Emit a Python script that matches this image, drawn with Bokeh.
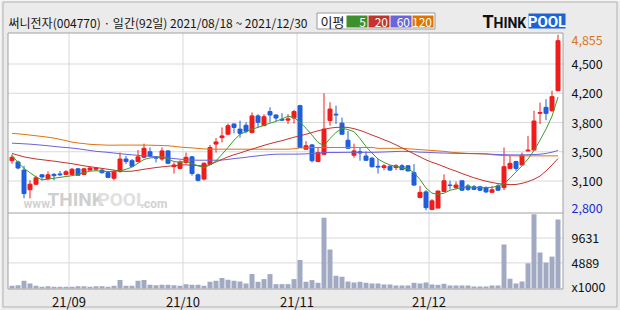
from bokeh.plotting import figure
from bokeh.models import ColumnDataSource, Range1d
from bokeh.embed import file_html
from bokeh.resources import INLINE
from bokeh.core.properties import value

# ---------------- data ----------------
title_text = "써니전자(004770) · 일간(92일) 2021/08/18 ~ 2021/12/30"
ma_names = ["5", "20", "60", "120"]
month_labels = ["21/09", "21/10", "21/11", "21/12"]
month_start_idx = [10, 29, 48, 70]

opens = [3380, 3365, 3270, 3040, 3105, 3215, 3170, 3220, 3225, 3220,
         3220, 3285, 3220, 3270, 3280, 3270, 3240, 3175, 3255, 3400,
         3380, 3370, 3420, 3485, 3425, 3400, 3495, 3310, 3290, 3360,
         3425, 3215, 3165, 3340, 3575, 3650, 3690, 3810, 3750, 3795,
         3710, 3905, 3790, 3955, 3915, 3865, 3855, 3880, 4025, 3515,
         3565, 3370, 3455, 3850, 3925, 3820, 3620, 3445, 3485, 3435,
         3410, 3315, 3300, 3315, 3300, 3320, 3320, 3240, 2950, 3015,
         2810, 2825, 3020, 3095, 3065, 3145, 3085, 3075, 3075, 3065,
         3010, 3085, 3065, 3290, 3370, 3330, 3495, 3505, 3935, 4005,
         3965, 4200]
highs = [3455, 3380, 3320, 3150, 3205, 3220, 3255, 3235, 3260, 3270,
         3295, 3295, 3295, 3310, 3300, 3295, 3255, 3270, 3475, 3435,
         3400, 3505, 3580, 3535, 3435, 3535, 3505, 3360, 3385, 3475,
         3435, 3230, 3360, 3565, 3645, 3770, 3815, 3815, 3850, 3830,
         3945, 3925, 3925, 4005, 3925, 3935, 3925, 3975, 4035, 3610,
         3575, 3535, 4170, 4065, 4025, 3885, 3730, 3580, 3535, 3490,
         3425, 3400, 3340, 3330, 3340, 3340, 3330, 3340, 3085, 3035,
         2930, 3030, 3220, 3145, 3135, 3145, 3105, 3095, 3085, 3080,
         3085, 3105, 3535, 3435, 3380, 3475, 3670, 3965, 4060, 4100,
         4200, 4855]
lows = [3345, 3280, 2940, 2940, 3095, 3150, 3150, 3150, 3200, 3215,
        3210, 3205, 3215, 3260, 3260, 3230, 3175, 3150, 3240, 3340,
        3305, 3360, 3410, 3420, 3360, 3380, 3340, 3230, 3280, 3345,
        3205, 3135, 3150, 3330, 3475, 3595, 3685, 3700, 3650, 3700,
        3700, 3770, 3790, 3830, 3845, 3845, 3810, 3815, 3535, 3515,
        3360, 3370, 3455, 3790, 3810, 3690, 3520, 3415, 3380, 3380,
        3300, 3230, 3270, 3260, 3270, 3270, 3255, 3085, 2940, 2800,
        2800, 2825, 3020, 3045, 3045, 3030, 3025, 3035, 3025, 3000,
        3005, 3025, 3035, 3290, 3260, 3330, 3485, 3505, 3810, 3855,
        3955, 4200]
closes = [3420, 3295, 2995, 3105, 3180, 3190, 3215, 3205, 3215, 3250,
          3280, 3210, 3285, 3295, 3295, 3240, 3185, 3255, 3400, 3370,
          3315, 3425, 3525, 3435, 3410, 3495, 3350, 3330, 3365, 3420,
          3230, 3150, 3350, 3535, 3600, 3670, 3790, 3770, 3700, 3725,
          3905, 3830, 3895, 3915, 3880, 3855, 3870, 3955, 3535, 3555,
          3380, 3475, 3750, 3985, 3915, 3690, 3525, 3495, 3470, 3385,
          3310, 3305, 3320, 3270, 3320, 3275, 3260, 3095, 3010, 2830,
          2910, 3025, 3145, 3090, 3095, 3035, 3045, 3045, 3035, 3015,
          3040, 3035, 3310, 3350, 3290, 3445, 3505, 3845, 3945, 3935,
          4130, 4785]
volumes = [510, 640, 1470, 960, 510, 320, 450, 320, 320, 320,
           320, 450, 450, 320, 450, 450, 320, 510, 1600, 510,
           510, 1470, 1600, 700, 640, 700, 700, 640, 510, 830,
           700, 700, 510, 1280, 1470, 1980, 1660, 1470, 1340, 960,
           2750, 1280, 1790, 2750, 830, 830, 830, 1790, 5440, 1280,
           1600, 1090, 13500, 7420, 2430, 2240, 1340, 1150, 1280, 1090,
           960, 960, 770, 770, 576, 576, 576, 1090, 960, 1150,
           770, 700, 900, 576, 576, 576, 576, 384, 384, 384,
           576, 576, 8380, 1860, 960, 1340, 4800, 14140, 6850, 4930,
           6080, 13180]
ma5 = [3440, 3360, 3290, 3240, 3190, 3155, 3165, 3175, 3185, 3195,
       3205, 3220, 3240, 3258, 3262, 3258, 3253, 3255, 3261, 3280,
       3305, 3350, 3395, 3412, 3420, 3425, 3400, 3370, 3362, 3371,
       3350, 3320, 3300, 3330, 3378, 3455, 3535, 3620, 3690, 3720,
       3750, 3770, 3795, 3820, 3840, 3870, 3900, 3887, 3830, 3760,
       3680, 3594, 3555, 3640, 3710, 3760, 3745, 3720, 3640, 3545,
       3470, 3400, 3360, 3330, 3315, 3295, 3285, 3240, 3160, 3060,
       3000, 2985, 3000, 3034, 3050, 3065, 3073, 3070, 3065, 3065,
       3068, 3085, 3110, 3175, 3250, 3320, 3400, 3500, 3620, 3750,
       3900, 4125]
ma20 = [3465, 3445, 3425, 3412, 3400, 3392, 3383, 3375, 3365, 3355,
        3345, 3333, 3320, 3310, 3300, 3290, 3280, 3270, 3260, 3255,
        3258, 3268, 3280, 3290, 3300, 3308, 3315, 3322, 3330, 3332,
        3328, 3322, 3320, 3335, 3365, 3395, 3425, 3450, 3470, 3495,
        3515, 3538, 3560, 3580, 3598, 3615, 3635, 3655, 3672, 3690,
        3710, 3730, 3748, 3762, 3770, 3772, 3770, 3755, 3735, 3710,
        3680, 3655, 3625, 3598, 3565, 3530, 3495, 3460, 3425, 3390,
        3362, 3338, 3310, 3282, 3258, 3230, 3205, 3180, 3160, 3140,
        3125, 3112, 3104, 3100, 3102, 3115, 3135, 3163, 3200, 3260,
        3330, 3405]
ma60 = [3585, 3582, 3578, 3574, 3568, 3562, 3555, 3548, 3540, 3535,
        3528, 3520, 3510, 3500, 3490, 3484, 3478, 3470, 3462, 3455,
        3449, 3443, 3437, 3430, 3425, 3420, 3412, 3405, 3398, 3392,
        3388, 3386, 3386, 3386, 3386, 3388, 3395, 3405, 3412, 3420,
        3430, 3437, 3445, 3452, 3456, 3457, 3457, 3457, 3458, 3460,
        3465, 3470, 3475, 3476, 3476, 3477, 3478, 3478, 3478, 3478,
        3478, 3480, 3482, 3485, 3488, 3490, 3488, 3485, 3480, 3478,
        3475, 3472, 3470, 3468, 3466, 3465, 3464, 3464, 3463, 3460,
        3456, 3452, 3450, 3449, 3448, 3448, 3450, 3452, 3456, 3465,
        3480, 3500]
ma120 = [3700, 3695, 3688, 3680, 3672, 3664, 3655, 3645, 3630, 3615,
         3598, 3588, 3580, 3572, 3568, 3565, 3562, 3562, 3563, 3563,
         3563, 3563, 3563, 3562, 3560, 3558, 3555, 3548, 3540, 3535,
         3530, 3524, 3518, 3515, 3515, 3515, 3515, 3515, 3515, 3515,
         3515, 3515, 3515, 3515, 3515, 3515, 3515, 3520, 3530, 3532,
         3535, 3535, 3535, 3535, 3535, 3535, 3535, 3535, 3535, 3535,
         3535, 3525, 3525, 3525, 3525, 3525, 3520, 3515, 3510, 3505,
         3500, 3495, 3490, 3480, 3475, 3470, 3465, 3462, 3460, 3458,
         3450, 3445, 3440, 3438, 3437, 3437, 3437, 3437, 3437, 3437,
         3437, 3437]

price_min, price_max = 2800, 4855
price_grid = [4512.5, 4170, 3827.5, 3485, 3142.5]
price_grid_labels = ["4,500", "4,200", "3,800", "3,500", "3,100"]
price_min_label, price_max_label = "2,800", "4,855"
vol_grid = [9631, 4889]
vol_tick_values = [9631, 4889, 0]
vol_tick_labels = ["9631", "4889", "x1000"]

# ---------------- layout geometry (canvas pixels) & style ----------------
W, H = 620, 310
PLOT_L, PLOT_R = 7.5, 562.5          # plot-area border lines
PRICE_T, PANEL_SEP, VOL_B = 32.5, 212.5, 288.5
SLOT0, PX = 11.5, 6.0                # centre of first day, pixels per day
Y_PMAX, Y_PMIN = 34.25, 209.75       # rows of the price extremes
Y_VOL0, VOL_PER_PX = 288.0, 190.7
LABEL_X = 571
MONTH_LABEL_Y = 300.5

FONT = "Noto Sans CJK KR"
BG = "#ebebeb"
GRID = "#d9d9d9"
FRAME = "#a0a0a0"
OUTER = "#b2b2b2"
UP = "#f01c1c"
DOWN = "#1f5fdc"
VOLC = "#a1aac2"
MA_COLORS = ["#3d9a2b", "#c2342e", "#6a62dc", "#e0730e"]
LEG_COLORS = ["#3f8f2c", "#c2342c", "#6a66da", "#e07400"]
AX_FS = "12.5px"

n = len(closes)
xs = list(range(n))
k = (price_max - price_min) / (Y_PMIN - Y_PMAX)   # price per pixel

x_rng = Range1d(-SLOT0 / PX, (W - SLOT0) / PX)
y_rng = Range1d(price_min - (H - Y_PMIN) * k, price_max + Y_PMAX * k)
vol_rng = Range1d(-(H - Y_VOL0) * VOL_PER_PX, Y_VOL0 * VOL_PER_PX)

p = figure(width=W, height=H, x_range=x_rng, y_range=y_rng,
           extra_x_ranges={"px": Range1d(0, W)},
           extra_y_ranges={"py": Range1d(H, 0), "vol": vol_rng},
           x_axis_location=None, y_axis_location=None, toolbar_location=None,
           output_backend="svg", min_border=0, background_fill_color=BG,
           border_fill_color=BG, outline_line_color=None)
p.grid.visible = False

PXY = dict(x_range_name="px", y_range_name="py")

# outer border of the picture
p.quad(left=[2.5], right=[616.5], top=[1.5], bottom=[306.5], fill_color=None,
       line_color=OUTER, line_width=1, **PXY)

# white plot area
p.quad(left=[PLOT_L], right=[PLOT_R], top=[PRICE_T], bottom=[VOL_B],
       fill_color="white", line_color=None, **PXY)

# grid lines
month_edges = [i - 0.5 for i in month_start_idx]
p.segment(x0=month_edges, x1=month_edges, y0=[PRICE_T] * 4, y1=[VOL_B] * 4,
          line_color=GRID, line_width=1, y_range_name="py")
p.segment(x0=[PLOT_L] * 5, x1=[PLOT_R] * 5, y0=price_grid, y1=price_grid,
          line_color=GRID, line_width=1, x_range_name="px")
p.segment(x0=[PLOT_L] * 2, x1=[PLOT_R] * 2, y0=vol_grid, y1=vol_grid,
          line_color=GRID, line_width=1, x_range_name="px", y_range_name="vol")

# watermark
for t, xx, fs, col in [("www.", 23, "12px", "#d2d2d2"), ("THINK", 47, "19px", "#cfcfcf"),
                       ("POOL", 97, "19px", "#e0e0e0"), (".com", 140, "12px", "#d2d2d2")]:
    p.text(x=[xx], y=[210], text=[t], text_font=value("Roboto"), text_font_style="bold",
           text_font_size=fs, text_color=col, text_baseline="bottom", **PXY)

# candles and volume
src = ColumnDataSource(dict(
    x=xs, high=highs, low=lows, vol=volumes,
    top=[max(o, c) for o, c in zip(opens, closes)],
    bottom=[min(o, c) for o, c in zip(opens, closes)],
    color=[UP if c >= o else DOWN for o, c in zip(opens, closes)]))
p.vbar(x="x", width=5 / PX, top="vol", bottom=0, fill_color=VOLC, line_color=None,
       source=src, y_range_name="vol")
p.segment(x0="x", y0="low", x1="x", y1="high", line_color="color", line_width=1, source=src)
p.vbar(x="x", width=4 / PX, top="top", bottom="bottom", fill_color="color",
       line_color="color", line_width=1, source=src)
for ma, col in zip([ma120, ma60, ma20, ma5], MA_COLORS[::-1]):
    p.line(xs, ma, line_color=col, line_width=1)

# borders
p.quad(left=[PLOT_L], right=[PLOT_R], top=[PRICE_T], bottom=[VOL_B],
       fill_color=None, line_color=FRAME, line_width=1, **PXY)
p.segment(x0=[PLOT_L], x1=[PLOT_R], y0=[PANEL_SEP], y1=[PANEL_SEP],
          line_color=FRAME, line_width=1, **PXY)

# price labels (right side)
pl_vals = [price_max] + price_grid + [price_min]
pl_text = [price_max_label] + price_grid_labels + [price_min_label]
pl_col = ["#d8761a"] + ["#111111"] * len(price_grid) + ["#1a2ed0"]
pl_dy = [5] + [0] * len(price_grid) + [-2]
p.text(x=[LABEL_X] * len(pl_vals), y=pl_vals, text=pl_text, text_color=pl_col,
       y_offset=pl_dy, text_font=value(FONT), text_font_size=AX_FS,
       text_baseline="middle", x_range_name="px")

# volume labels
vl_dy = [0, 0, -2]
p.text(x=[LABEL_X] * 3, y=vol_tick_values, text=vol_tick_labels, text_color="#111111",
       y_offset=vl_dy, text_font=value(FONT), text_font_size=AX_FS,
       text_baseline="middle", x_range_name="px", y_range_name="vol")

# month labels
p.text(x=month_edges, y=[MONTH_LABEL_Y] * 4, text=month_labels, text_color="#111111",
       text_font=value(FONT), text_font_size="13px", text_align="center",
       text_baseline="middle", y_range_name="py")

# ---------------- header ----------------
p.text(x=[8], y=[22], text=[title_text], text_font=value(FONT), text_font_size="12px",
       text_baseline="middle", text_color="#151515", **PXY)
p.quad(left=[316.5], right=[434.5], top=[12.5], bottom=[28.5], fill_color="white",
       line_color="#9a9a9a", **PXY)
p.text(x=[320], y=[21], text=["이평"], text_font=value(FONT), text_font_size="13px",
       text_baseline="middle", text_color="#151515", **PXY)
leg_left = [346, 368, 390, 412]
leg_right = [367, 389, 411, 433]
p.quad(left=leg_left, right=leg_right, top=[15] * 4, bottom=[27] * 4,
       fill_color=LEG_COLORS, line_color=None, **PXY)
p.text(x=[r - 1.5 for r in leg_right], y=[21.5] * 4, text=ma_names, text_font=value(FONT),
       text_font_size="12px", text_baseline="middle", text_align="right",
       text_color="white", **PXY)
p.text(x=[482], y=[21], text=["T"], text_font=value("Roboto"), text_font_style="bold",
       text_font_size="18px", text_baseline="middle", text_color="#111111", **PXY)
p.text(x=[493], y=[22], text=["HINK"], text_font=value("Roboto"), text_font_style="bold",
       text_font_size="14px", text_baseline="middle", text_color="#111111", **PXY)
p.quad(left=[528], right=[565], top=[13], bottom=[28], fill_color="#1f62d8",
       line_color=None, **PXY)
p.text(x=[546.5], y=[21], text=["POOL"], text_font=value("Roboto"), text_font_style="bold",
       text_font_size="15px", text_baseline="middle", text_align="center",
       text_color="white", **PXY)

open("out.html", "w").write(file_html(p, INLINE))
